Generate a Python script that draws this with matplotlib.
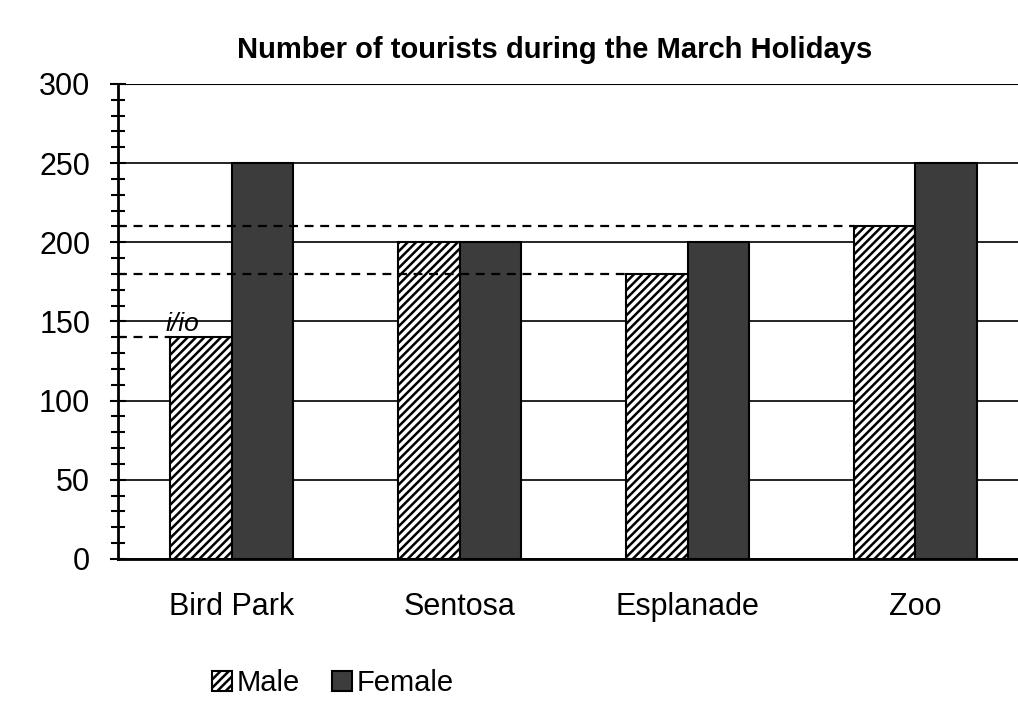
import numpy as np
import matplotlib.pyplot as plt
from matplotlib.ticker import MultipleLocator

places = ["Bird Park", "Sentosa", "Esplanade", "Zoo"]
male = [140, 200, 180, 210]
female = [250, 200, 200, 250]
# dashed helper lines drawn on the scan: (value, category index of the bar they reach)
guides = [(140, 0), (180, 2), (210, 3)]

plt.rcParams['font.family'] = ['Liberation Sans', 'DejaVu Sans']
plt.rcParams['hatch.linewidth'] = 1.8

fig = plt.figure(figsize=(10.18, 7.08), dpi=100)
ax = fig.add_axes([0.1159, 0.2105, 0.8841, 0.6709])

x = np.arange(len(places))
w = 0.27
ax.bar(x - w / 2, male, w, color="white", edgecolor="black", hatch="////",
       linewidth=1.5, label="Male", zorder=3)
ax.bar(x + w / 2, female, w, color="#3c3c3c", edgecolor="black",
       linewidth=1.5, label="Female", zorder=3)

for val, i in guides:
    ax.plot([-0.5, x[i] - w], [val, val], color="black", lw=1.6,
            ls=(0, (4, 3)), zorder=4)

ax.set_ylim(0, 300)
ax.set_xlim(-0.5, 3.45)
ax.yaxis.set_major_locator(MultipleLocator(50))
ax.yaxis.set_minor_locator(MultipleLocator(10))
ax.grid(axis="y", which="major", color="black", lw=1.2, zorder=0)
ax.set_axisbelow(True)
ax.tick_params(axis="y", which="major", direction="inout", length=12, width=1.5,
               labelsize=22, pad=14)
ax.tick_params(axis="y", which="minor", direction="inout", length=10, width=1.5)
ax.set_xticks(x)
ax.set_xticklabels(places)
ax.tick_params(axis="x", length=0, labelsize=22, pad=24)
for s in ["top", "right"]:
    ax.spines[s].set_visible(False)
ax.spines["left"].set_linewidth(2)
ax.spines["bottom"].set_linewidth(2)
ax.axhline(300, color="black", lw=1.5, zorder=1)

ax.text(0 - w - 0.02, 141, "i/io", fontsize=19, style="italic", ha="left", va="bottom")

fig.text(555 / 1018, 1 - 50 / 708, "Number of tourists during the March Holidays",
         ha="center", va="center", fontsize=21, fontweight="bold")

fig.legend(loc="center left", bbox_to_anchor=(200 / 1018, 1 - 683 / 708),
           ncol=2, frameon=False, fontsize=21, handlelength=0.7, handleheight=0.7,
           handletextpad=0.15, columnspacing=1.1, borderaxespad=0)

fig.savefig("out.png", dpi=100)
